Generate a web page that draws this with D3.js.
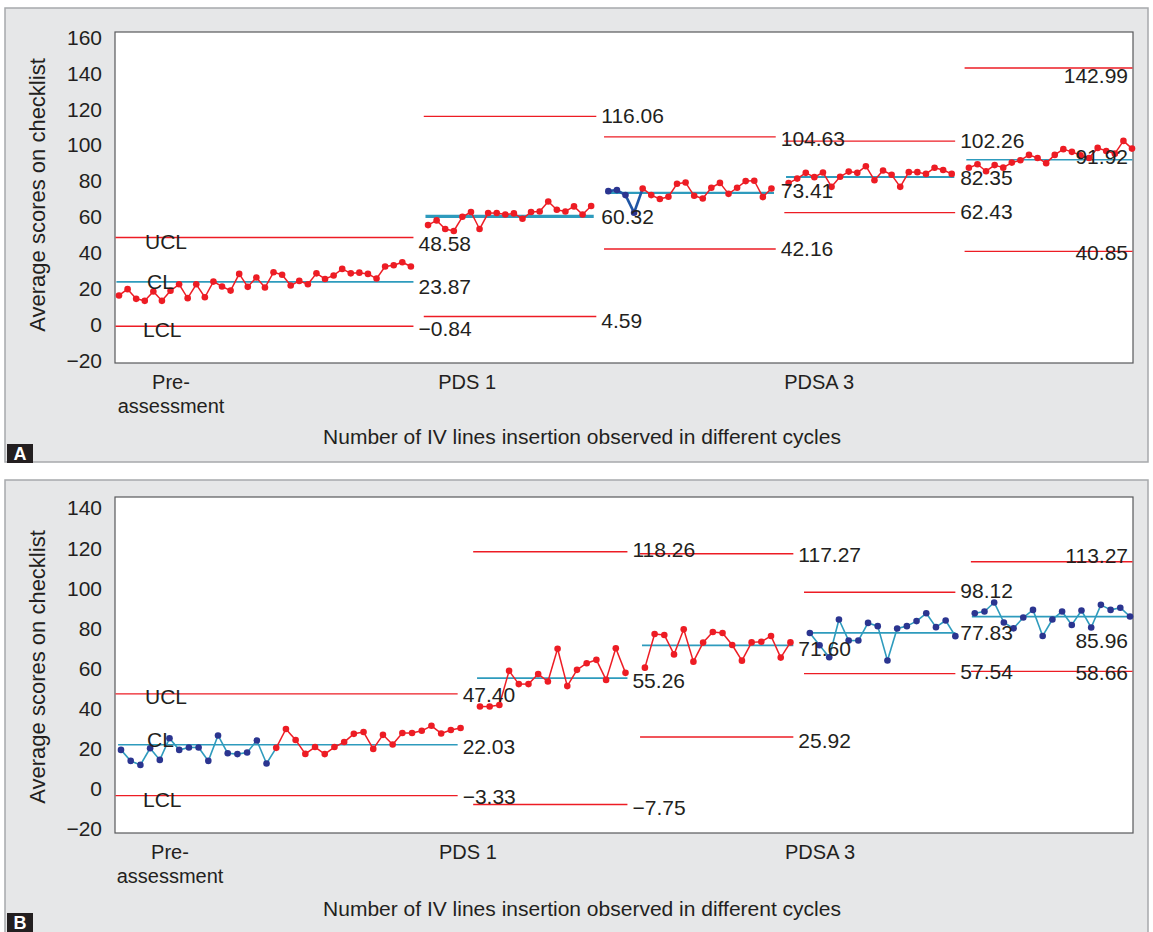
<!DOCTYPE html>
<html><head><meta charset="utf-8">
<script src="https://cdn.jsdelivr.net/npm/d3@7"></script>
<style>
body{margin:0;background:#fff;}
svg{display:block;}
text{font-family:"Liberation Sans",Arial,Helvetica,sans-serif;fill:#231f20;}
</style>
</head><body>
<svg id="chart" width="1153" height="932"></svg>
<script>
// ---------------- DATA ----------------
const yAxisTitle = "Average scores on checklist";
const xAxisTitle = "Number of IV lines insertion observed in different cycles";
const xTickLabels = [["Pre-", "assessment"], ["PDS 1"], ["PDSA 3"]];
const xTickIndexA = [6, 40.5, 81.5];
const xTickIndexB = [5, 35.7, 72];
const yTicksA = [-20, 0, 20, 40, 60, 80, 100, 120, 140, 160];
const yTicksB = [-20, 0, 20, 40, 60, 80, 100, 120, 140];
const limitNames = ["UCL", "CL", "LCL"];

// Panel A observations per cycle
const aSeg1 = [16.3,19.8,14.4,13.3,18.5,13.3,18.9,22.5,14.8,22.5,15.3,24.0,21.3,19.0,28.3,21.1,26.3,20.7,29.2,27.8,21.8,24.4,22.5,28.6,25.5,27.4,31.1,28.6,29.0,28.3,25.7,32.4,33.1,34.8,32.4];
const aSeg2 = [55.5,58.1,53.3,52.2,60.1,62.8,53.3,62.2,62.2,61.4,62.0,59.0,62.8,63.1,68.6,64.0,63.1,65.9,61.4,66.1];
const aSeg3 = [74.4,75.0,72.2,62.4,75.9,72.2,70.0,71.3,78.5,79.2,71.8,70.3,76.3,79.0,72.9,76.3,80.0,80.2,71.1,75.9];
const aSeg4 = [78.9,81.4,84.6,82.2,84.8,76.8,82.4,85.3,84.6,88.3,80.5,85.9,83.5,76.8,85.0,85.0,84.0,87.4,86.2,84.0];
const aSeg5 = [87.4,89.4,85.5,88.9,87.5,90.3,91.6,94.6,92.9,90.0,94.6,97.8,96.3,94.4,92.9,98.5,96.8,95.3,102.4,98.1];
const aStart = [0, 36, 57, 78, 99];
const aFlagged = [0, 0, 4, 0, 0];   // leading points plotted as blue
const aUCL = [48.58, 116.06, 104.63, 102.26, 142.99];
const aCL  = [23.87, 60.32, 73.41, 82.35, 91.92];
const aLCL = [-0.84, 4.59, 42.16, 62.43, 40.85];

// Panel B observations per cycle
const bSeg1 = [19.5,14.0,12.0,20.3,14.5,25.3,19.5,20.7,20.7,14.0,26.7,17.8,17.4,18.2,24.2,12.7,20.5,29.9,24.4,17.5,20.9,17.4,20.9,23.4,27.5,28.4,20.0,27.0,22.2,27.9,27.9,29.0,31.5,27.7,29.4,30.4];
const bSeg2 = [41.1,41.1,41.9,58.9,52.3,52.3,57.3,53.6,69.9,51.3,59.4,62.7,64.4,54.4,70.2,57.9];
const bSeg3 = [60.5,77.3,76.8,67.1,79.6,63.5,73.0,78.3,77.8,71.8,64.0,73.1,73.4,76.3,65.5,73.1];
const bSeg4 = [77.8,71.7,65.7,84.5,74.0,74.0,82.8,81.2,64.1,80.0,81.2,83.7,87.6,80.7,84.0,76.2];
const bSeg5 = [87.6,88.5,93.0,83.0,80.1,85.5,89.3,76.3,84.5,88.5,81.8,89.0,80.5,91.8,89.3,90.4,86.0];
const bStart = [0, 37, 54, 71, 88];
const bFlagged = [16, 0, 0, 16, 17];
const bUCL = [47.40, 118.26, 117.27, 98.12, 113.27];
const bCL  = [22.03, 55.26, 71.60, 77.83, 85.96];
const bLCL = [-3.33, -7.75, 25.92, 57.54, 58.66];

// ---------------- LAYOUT / STYLE ----------------
const RED = "#ed1c24", TEAL = "#2e9bbd", NAVY = "#2b3590", DBLUE = "#1f55a5";
const svg = d3.select("#chart");
const fmt = v => (v < 0 ? "\u2212" + d3.format(".2f")(-v) : d3.format(".2f")(v));
const fmtTick = v => (v < 0 ? "\u2212" + (-v) : String(v));

const panels = [
  {
    letter: "A", box: [5, 8, 1143, 454], plot: [115, 32, 1133, 363], badgeY: 444,
    x: d3.scaleLinear().domain([0, 118]).range([119, 1132]),
    y: d3.scaleLinear().domain([-20, 160]).range([360.6, 37.5]),
    yTicks: yTicksA, xTicks: xTickIndexA,
    segs: [aSeg1, aSeg2, aSeg3, aSeg4, aSeg5], start: aStart, flagged: aFlagged,
    ucl: aUCL, cl: aCL, lcl: aLCL, flagLine: DBLUE, flagLineW: 2.6,
    thickCL: [1.6, 3.2, 2.2, 2, 1.6],
    padL: [0.5, 0.5, 0.5, 0.5, 0.5], padR: [0.3, 0.6, 0.5, 0.4, 0.5],
    dy: [[6, 5, 2], [-1, 0, 4], [2, -2, 0], [0, 1, -1], [8, -3, 1]],
    nameDy: [4, 0, 3],
    titleY: 437, tickY: 389, yTitleC: 195
  },
  {
    letter: "B", box: [5, 480, 1143, 470], plot: [115, 497, 1133, 833], badgeY: 913,
    x: d3.scaleLinear().domain([0, 104]).range([121, 1130]),
    y: d3.scaleLinear().domain([-20, 140]).range([829.1, 508.2]),
    yTicks: yTicksB, xTicks: xTickIndexB,
    segs: [bSeg1, bSeg2, bSeg3, bSeg4, bSeg5], start: bStart, flagged: bFlagged,
    ucl: bUCL, cl: bCL, lcl: bLCL, flagLine: TEAL, flagLineW: 1.6,
    thickCL: [1.6, 1.6, 1.6, 1.6, 1.6],
    padL: [0.6, 0.7, 0.5, 0.6, 0.4], padR: [-0.3, 0.2, 0.3, 0.0, 0.5],
    dy: [[1, 2, 1], [-2, 2, 3], [1, 3, 4], [-2, 0, -2], [-6, 24, 1]],
    nameDy: [3, -5, 4],
    titleY: 909, tickY: 859, yTitleC: 667
  }
];

panels.forEach(p => {
  const g = svg.append("g");
  const [bx, by, bw, bh] = p.box;
  g.append("rect").attr("x", bx).attr("y", by).attr("width", bw).attr("height", bh)
    .attr("fill", "#e6e7e8").attr("stroke", "#a7a9ac").attr("stroke-width", 1.5);
  const [pl, pt, pr, pb] = p.plot;
  g.append("rect").attr("x", pl).attr("y", pt).attr("width", pr - pl).attr("height", pb - pt)
    .attr("fill", "#fff").attr("stroke", "#58595b").attr("stroke-width", 1.2);

  // letter badge
  g.append("rect").attr("x", 7).attr("y", p.badgeY).attr("width", 26).attr("height", 19).attr("fill", "#231f20");
  g.append("text").attr("x", 20).attr("y", p.badgeY + 16).attr("text-anchor", "middle")
    .style("fill", "#fff").style("font-weight", "bold").style("font-size", "18px").text(p.letter);

  // y axis
  const yAxis = d3.axisLeft(p.y).tickValues(p.yTicks).tickSize(0).tickPadding(13).tickFormat(fmtTick);
  const ya = g.append("g").attr("transform", `translate(${pl},0)`).call(yAxis);
  ya.select(".domain").remove();
  ya.selectAll("text").style("font-size", "21px").style("font-family", '"Liberation Sans",Arial,sans-serif').attr("fill", "#231f20");

  // x axis tick labels
  const xAxis = d3.axisBottom(p.x).tickValues(p.xTicks).tickSize(0).tickFormat("");
  const xa = g.append("g").attr("transform", `translate(0,${pb})`).call(xAxis);
  xa.select(".domain").remove();
  xa.selectAll(".tick").each(function(d, i) {
    const t = d3.select(this).append("text").attr("y", p.tickY - pb).attr("text-anchor", "middle")
      .style("font-size", "20px").attr("fill", "#231f20");
    xTickLabels[i].forEach((line, k) => {
      t.append("tspan").attr("x", 0).attr("dy", k === 0 ? 0 : 24).text(line);
    });
  });

  // titles
  g.append("text").attr("transform", `translate(37,${p.yTitleC}) rotate(-90)`)
    .attr("text-anchor", "middle").attr("dy", "0.35em").style("font-size", "22px").text(yAxisTitle);
  g.append("text").attr("x", 582).attr("y", p.titleY).attr("text-anchor", "middle").attr("dy", "0.35em")
    .style("font-size", "21px").text(xAxisTitle);

  const clampX = v => Math.max(pl + 0.5, Math.min(pr - 0.5, v));

  // control lines
  p.segs.forEach((vals, s) => {
    const i0 = p.start[s], i1 = i0 + vals.length - 1;
    const limits = [p.ucl[s], p.cl[s], p.lcl[s]];
    limits.forEach((lv, k) => {
      const pl0 = k === 1 ? Math.min(p.padL[s], 0.3) : p.padL[s];
      const pr0 = k === 1 ? Math.min(p.padR[s], 0.3) : p.padR[s];
      g.append("line")
        .attr("x1", clampX(p.x(i0 - pl0))).attr("x2", clampX(p.x(i1 + pr0)))
        .attr("y1", p.y(lv)).attr("y2", p.y(lv))
        .attr("stroke", k === 1 ? TEAL : RED)
        .attr("stroke-width", k === 1 ? p.thickCL[s] : 1.4);
    });
  });

  // data lines and points
  p.segs.forEach((vals, s) => {
    const i0 = p.start[s];
    const pts = vals.map((v, j) => ({ x: p.x(i0 + j), y: p.y(v), flag: j < p.flagged[s] }));
    for (let j = 0; j < pts.length - 1; j++) {
      g.append("line").attr("x1", pts[j].x).attr("y1", pts[j].y).attr("x2", pts[j + 1].x).attr("y2", pts[j + 1].y)
        .attr("stroke", pts[j].flag ? p.flagLine : RED)
        .attr("stroke-width", pts[j].flag ? p.flagLineW : 1.5);
    }
    g.selectAll(null).data(pts).enter().append("circle")
      .attr("cx", d => d.x).attr("cy", d => d.y).attr("r", 3.3)
      .attr("fill", d => d.flag ? NAVY : RED);
  });

  // value labels
  p.segs.forEach((vals, s) => {
    const i0 = p.start[s], i1 = i0 + vals.length - 1;
    const limits = [p.ucl[s], p.cl[s], p.lcl[s]];
    const last = s === p.segs.length - 1;
    limits.forEach((lv, k) => {
      g.append("text")
        .attr("x", last ? pr - 5 : p.x(i1 + p.padR[s]) + 5)
        .attr("y", p.y(lv) + p.dy[s][k]).attr("dy", "0.35em")
        .attr("text-anchor", last ? "end" : "start")
        .style("font-size", "21px").text(fmt(lv));
    });
  });
  // names on first segment
  [p.ucl[0], p.cl[0], p.lcl[0]].forEach((lv, k) => {
    g.append("text").attr("x", 145 + (k === 1 ? 2 : (k === 2 ? -2 : 0)))
      .attr("y", p.y(lv) + p.nameDy[k]).attr("dy", "0.35em")
      .style("font-size", "21px").text(limitNames[k]);
  });
});
</script>
</body></html>
